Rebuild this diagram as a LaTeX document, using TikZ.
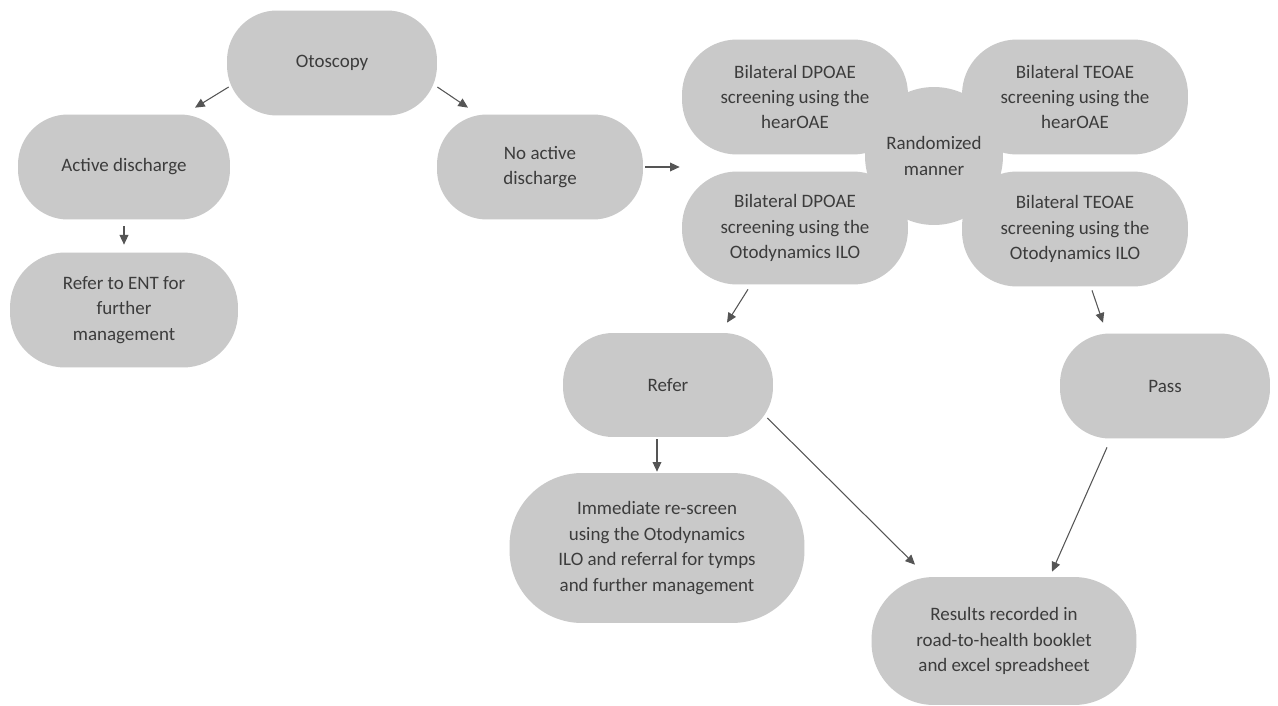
\documentclass[tikz,border=0pt]{standalone}
\usepackage{fontspec}
\setmainfont{Carlito}
\usetikzlibrary{calc,arrows.meta}
\definecolor{boxgray}{RGB}{201,201,201}
\definecolor{txtgray}{RGB}{60,60,60}
\definecolor{arrgray}{RGB}{85,85,85}
\begin{document}
\begin{tikzpicture}[x=0.02cm,y=-0.02cm,
  box/.style={fill=boxgray,text=txtgray,align=center,inner sep=0pt,
    rounded corners=1cm,font=\fontsize{10.8}{14.5}\selectfont},
  arr/.style={draw=arrgray,line width=0.6pt,-{Triangle[length=5.5pt,width=5pt]}}]
\useasboundingbox[fill=white] (0,0) rectangle (1278,706);
% nodes
\node[box,minimum width=4.2cm,minimum height=2.1cm] (oto) at (332,63) {Otoscopy};
\node[box,minimum width=4.24cm,minimum height=2.1cm] (act) at (124,167) {Active discharge};
\node[box,minimum width=4.56cm,minimum height=2.3cm,rounded corners=1.1cm] (ent) at (124,310) {Refer to ENT for\\further\\management};
\node[box,minimum width=4.12cm,minimum height=2.1cm] (noact) at (540,167) {No active\\discharge};
\node[box,minimum width=4.52cm,minimum height=2.3cm,rounded corners=1.1cm] (dph) at (795,97) {Bilateral DPOAE\\screening using the\\hearOAE};
\node[box,minimum width=4.52cm,minimum height=2.26cm,rounded corners=1.1cm] (dpi) at (795,228) {Bilateral DPOAE\\screening using the\\Otodynamics ILO};
\node[box,minimum width=4.52cm,minimum height=2.3cm,rounded corners=1.1cm] (teh) at (1075,97) {Bilateral TEOAE\\screening using the\\hearOAE};
\node[box,minimum width=4.52cm,minimum height=2.3cm,rounded corners=1.1cm] (tei) at (1075,229) {Bilateral TEOAE\\screening using the\\Otodynamics ILO};
\node[circle,fill=boxgray,text=txtgray,align=center,inner sep=0pt,minimum size=2.76cm,font=\fontsize{10.8}{14.5}\selectfont] (rand) at (934,156) {Randomized\\manner};
\node[box,minimum width=4.2cm,minimum height=2.08cm] (refer) at (668,385) {Refer};
\node[box,minimum width=4.2cm,minimum height=2.1cm] (pass) at (1165,386) {Pass};
\node[box,minimum width=5.9cm,minimum height=3.0cm,rounded corners=1.45cm] (imm) at (657,548) {Immediate re-screen\\using the Otodynamics\\ILO and referral for tymps\\and further management};
\node[box,minimum width=5.3cm,minimum height=2.56cm,rounded corners=1.25cm] (res) at (1004,641) {Results recorded in\\road-to-health booklet\\and excel spreadsheet};
% connectors
\draw[arr] ($(oto.west)+(2,24)$) -- ($(act.north)+(71,-6.5)$);
\draw[arr] ($(oto.east)+(0,24)$) -- ($(noact.north)+(-72,-6.5)$);
\draw[arr] ($(act.south)+(0,6.5)$) -- ($(ent.north)+(0,-7.5)$);
\draw[arr] ($(noact.east)+(2,0)$) -- ($(noact.east -| dph.west)+(-2,0)$);
\draw[arr] ($(dpi.south)+(-47,4.5)$) -- ($(refer.north)+(59,-10)$);
\draw[arr] ($(tei.south)+(17,3.5)$) -- ($(pass.north)+(-62,-10.5)$);
\draw[arr] ($(refer.south)+(-11,2)$) -- ($(imm.north)+(0,-1)$);
\draw[arr] ($(refer.east)+(-6,33)$) -- ($(res.north)+(-89,-12)$);
\draw[arr] ($(pass.south)+(-58,8.5)$) -- ($(res.north)+(48,-5)$);
\end{tikzpicture}
\end{document}
